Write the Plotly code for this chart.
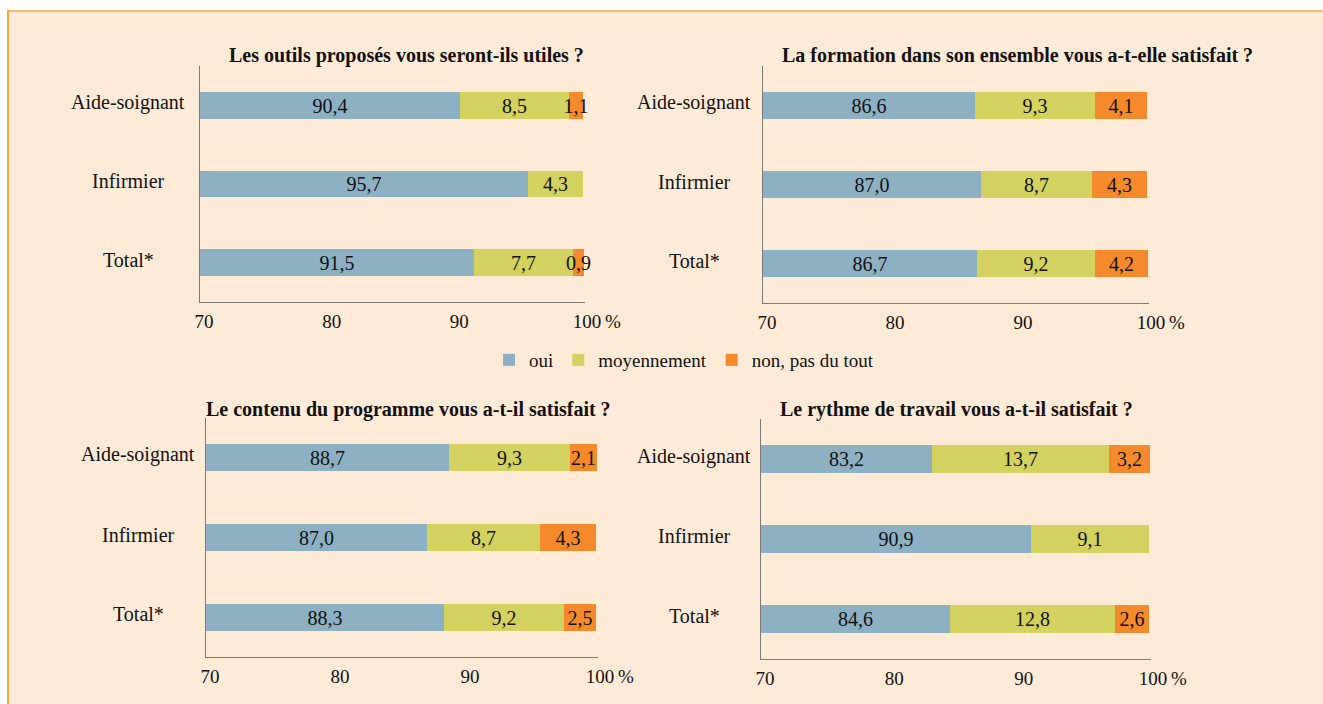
import plotly.graph_objects as go

W, H = 1323, 704

# ---------------- data ----------------
categories = ["Aide-soignant", "Infirmier", "Total*"]
series_names = ["oui", "moyennement", "non, pas du tout"]
tick_values = [70, 80, 90, 100]
tick_labels = ["70", "80", "90", "100"]

titles = [
    "Les outils proposés vous seront-ils utiles ?",
    "La formation dans son ensemble vous a-t-elle satisfait ?",
    "Le contenu du programme vous a-t-il satisfait ?",
    "Le rythme de travail vous a-t-il satisfait ?",
]

oui_outils = [90.4, 95.7, 91.5]
moy_outils = [8.5, 4.3, 7.7]
non_outils = [1.1, None, 0.9]

oui_formation = [86.6, 87.0, 86.7]
moy_formation = [9.3, 8.7, 9.2]
non_formation = [4.1, 4.3, 4.2]

oui_contenu = [88.7, 87.0, 88.3]
moy_contenu = [9.3, 8.7, 9.2]
non_contenu = [2.1, 4.3, 2.5]

oui_rythme = [83.2, 90.9, 84.6]
moy_rythme = [13.7, 9.1, 12.8]
non_rythme = [3.2, None, 2.6]

panels = [
    (oui_outils, moy_outils, non_outils),
    (oui_formation, moy_formation, non_formation),
    (oui_contenu, moy_contenu, non_contenu),
    (oui_rythme, moy_rythme, non_rythme),
]

# ---------------- style ----------------
BLUE = "#8DB0C3"
YELLOW = "#D3D15F"
ORANGE = "#F58A2C"
BG = "#FDEBD8"
FONT = "Liberation Serif"
AXIS_START = 70
AXIS_END = 100.15  # tiny headroom so rounded totals of 100,1 keep their labels

# pixel boxes of plot areas: (x0, x1, ytop, ybottom)
boxes = [(200, 583, 66, 302), (763, 1147, 66, 303), (206, 596, 418, 657), (761, 1149, 419, 659)]
title_pos = [(406, 55), (1017, 55), (408, 409), (957, 409)]
label_center = [128, 694, 138, 694]


def fmt(v):
    return "" if v is None else f"{v:.1f}".replace(".", ",")


fig = go.Figure()
annotations = []
layout_axes = {}

for i, (oui, moy, non) in enumerate(panels):
    sfx = "" if i == 0 else str(i + 1)
    xa, ya = "x" + sfx, "y" + sfx
    x0, x1, yt, yb = boxes[i]
    scale = (AXIS_END - AXIS_START) / (100 - AXIS_START)
    x1 = x0 + (x1 - x0) * scale

    base_moy = [o for o in oui]
    base_non = [o + m for o, m in zip(oui, moy)]
    seg_oui = [o - AXIS_START for o in oui]

    common = dict(orientation="h", width=0.34, textposition="inside", insidetextanchor="middle",
                  textangle=0, constraintext="none", cliponaxis=False,
                  textfont=dict(family=FONT, size=20, color="#111111"),
                  xaxis=xa, yaxis=ya, hoverinfo="skip")
    fig.add_trace(go.Bar(y=categories, x=seg_oui, base=[AXIS_START] * len(oui), name=series_names[0],
                         marker=dict(color=BLUE, line_width=0), text=[fmt(v) for v in oui],
                         showlegend=(i == 0), legendgroup="oui", **common))
    fig.add_trace(go.Bar(y=categories, x=moy, base=base_moy, name=series_names[1],
                         marker=dict(color=YELLOW, line_width=0), text=[fmt(v) for v in moy],
                         showlegend=(i == 0), legendgroup="moy", **common))
    fig.add_trace(go.Bar(y=categories, x=non, base=base_non, name=series_names[2],
                         marker=dict(color=ORANGE, line_width=0), text=[fmt(v) for v in non],
                         showlegend=(i == 0), legendgroup="non", **common))

    layout_axes["xaxis" + sfx] = dict(
        domain=[x0 / W, x1 / W], anchor=ya, range=[AXIS_START, AXIS_END], automargin=False,
        tickmode="array", tickvals=tick_values, ticktext=tick_labels,
        showgrid=False, zeroline=False, showline=True, linecolor="#7a7a7a", linewidth=1,
        ticks="", ticklabelstandoff=2, ticklabelshift=4,
        tickfont=dict(family=FONT, size=19, color="#111111"), fixedrange=True,
    )
    layout_axes["yaxis" + sfx] = dict(
        domain=[1 - yb / H, 1 - yt / H], anchor=xa, type="category", automargin=False,
        categoryorder="array", categoryarray=categories, range=[2.5, -0.5],
        showgrid=False, zeroline=False, showline=True, linecolor="#7a7a7a", linewidth=1,
        ticks="", showticklabels=False, fixedrange=True,
    )

    # "%" after the 100 tick
    annotations.append(dict(text="%", xref=xa, x=100, yref=ya + " domain", y=0,
                            xanchor="left", yanchor="top", xshift=20, yshift=-7, showarrow=False,
                            font=dict(family=FONT, size=19, color="#111111")))
    # category labels, centred to the left of the axis
    for c in categories:
        annotations.append(dict(text=c, xref="paper", x=label_center[i] / W, yref=ya, y=c,
                                xanchor="center", yanchor="middle", yshift=3, showarrow=False,
                                font=dict(family=FONT, size=20, color="#111111")))
    # panel titles
    tx, ty = title_pos[i]
    annotations.append(dict(text="<b>" + titles[i] + "</b>", xref="paper", yref="paper",
                            x=tx / W, y=1 - ty / H, xanchor="center", yanchor="middle",
                            showarrow=False, font=dict(family=FONT, size=20, color="#111111")))

shapes = [
    dict(type="rect", xref="paper", yref="paper", x0=7 / W, x1=1.02, y0=-0.02, y1=1 - 10 / H,
         fillcolor=BG, line_width=0, layer="below"),
    dict(type="line", xref="paper", yref="paper", x0=7 / W, x1=1.02, y0=1 - 11 / H, y1=1 - 11 / H,
         line=dict(color="#FDBA6C", width=2), layer="below"),
    dict(type="line", xref="paper", yref="paper", x0=8 / W, x1=8 / W, y0=-0.02, y1=1 - 10 / H,
         line=dict(color="#F9A43C", width=2), layer="below"),
]

fig.update_layout(
    width=W, height=H, margin=dict(l=0, r=0, t=0, b=0, pad=0, autoexpand=False),
    paper_bgcolor="white", plot_bgcolor="rgba(0,0,0,0)",
    barmode="overlay", bargap=0,
    font=dict(family=FONT, size=19, color="#111111"),
    legend=dict(orientation="h", x=684 / W, xanchor="center", y=1 - 360 / H, yanchor="middle",
                bgcolor="rgba(0,0,0,0)", font=dict(family=FONT, size=19, color="#111111"),
                traceorder="normal"),
    annotations=annotations, shapes=shapes,
    **layout_axes,
)

fig.write_html("out.html", config={"displayModeBar": False},
               post_script="document.body.style.margin='0';document.body.style.overflow='hidden';")
